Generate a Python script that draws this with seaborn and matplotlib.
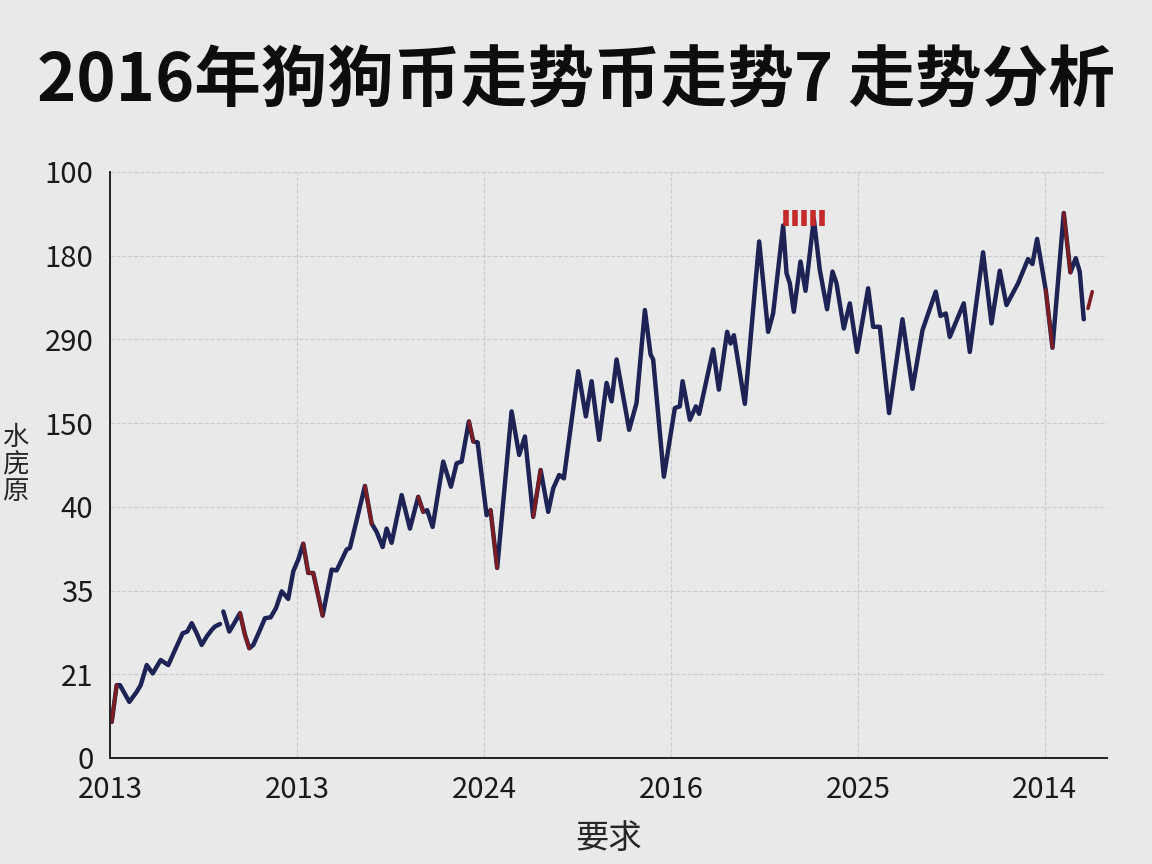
import pandas as pd
import matplotlib.pyplot as plt
import seaborn as sns
import numpy as np

sns.set_theme(style="white")
plt.rcParams['font.family'] = ['Noto Sans CJK SC', 'DejaVu Sans']

# --- data ---
title = '2016年狗狗币走势币走势7 走势分析'
x_label = '要求'
y_label = '水\n庑\n原'
x_tick_pos = [0, 30, 60, 90, 120, 150]
x_tick_labels = ['2013', '2013', '2024', '2016', '2025', '2014']
y_tick_pos = [0, 1, 2, 3, 4, 5, 6, 7]
y_tick_labels = ['0', '21', '35', '40', '150', '290', '180', '100']

# part 1 (before the short gap)
t_a = [0.27, 1.07, 1.60, 3.10, 4.28, 4.92, 5.89, 6.85, 8.13, 9.35, 10.43, 11.66,
       12.40, 13.11, 13.91, 14.71, 15.51, 16.32, 16.84, 17.65]
v_a = [0.43, 0.87, 0.87, 0.67, 0.79, 0.87, 1.11, 1.01, 1.17, 1.11, 1.29, 1.49,
       1.51, 1.61, 1.49, 1.35, 1.45, 1.53, 1.57, 1.60]

# part 2
t_b = [18.18, 19.14, 19.78, 20.86, 21.66, 22.35, 22.99, 23.95, 24.87, 25.78, 26.63,
       27.55, 28.60, 29.41, 30.21, 31.01, 31.81, 32.61, 34.12, 35.57, 36.37, 37.97,
       38.50, 39.58, 40.91, 41.99, 42.79, 43.75, 44.39, 45.19, 46.80, 48.13, 49.46,
       50.26, 50.90, 51.77, 53.47, 54.71, 55.62, 56.42, 57.59, 58.29, 58.99, 60.43,
       61.07, 62.13, 64.44, 65.66, 66.58, 67.91, 69.10, 70.32, 71.12, 72.08, 72.83,
       75.13, 76.36, 77.28, 78.50, 79.68, 80.49, 81.29, 83.31, 84.49, 85.83, 86.74,
       87.16, 88.88, 90.64, 91.44, 91.88, 93.05, 94.01, 94.54, 96.79, 97.70, 99.03,
       99.58, 100.11, 101.87, 104.17, 105.61, 106.41, 108.02, 108.56, 109.09, 109.73,
       110.80, 111.61, 112.94, 113.90, 115.07, 115.94, 116.58, 117.75, 118.72, 119.89,
       121.66, 122.46, 123.53, 125.02, 127.17, 128.77, 130.38, 132.51, 133.27, 134.12,
       134.76, 137.00, 137.97, 140.10, 141.45, 142.78, 143.86, 145.72, 147.32, 148.02,
       148.77, 150.16, 151.24, 153.05, 154.12, 154.97, 155.61, 156.26]
v_b = [1.75, 1.51, 1.59, 1.73, 1.47, 1.31, 1.35, 1.51, 1.67, 1.68, 1.79,
       1.99, 1.90, 2.23, 2.37, 2.56, 2.21, 2.21, 1.70, 2.25, 2.24, 2.49,
       2.51, 2.84, 3.25, 2.80, 2.70, 2.52, 2.74, 2.57, 3.14, 2.74, 3.12,
       2.94, 2.96, 2.76, 3.54, 3.24, 3.52, 3.54, 4.02, 3.78, 3.77, 2.90,
       2.96, 2.27, 4.14, 3.62, 3.84, 2.88, 3.44, 2.94, 3.22, 3.38, 3.34,
       4.62, 4.08, 4.50, 3.80, 4.48, 4.26, 4.76, 3.92, 4.24, 5.35, 4.82,
       4.76, 3.36, 4.18, 4.20, 4.50, 4.04, 4.20, 4.11, 4.88, 4.40, 5.09,
       4.95, 5.05, 4.23, 6.17, 5.09, 5.31, 6.36, 5.79, 5.67, 5.33,
       5.93, 5.58, 6.44, 5.83, 5.36, 5.81, 5.67, 5.13, 5.43, 4.85,
       5.61, 5.15, 5.15, 4.12, 5.24, 4.41, 5.11, 5.57, 5.28, 5.31,
       5.03, 5.43, 4.85, 6.04, 5.19, 5.82, 5.41, 5.67, 5.96, 5.90,
       6.20, 5.59, 4.90, 6.51, 5.80, 5.97, 5.81, 5.24]

# spans where the line shows red
red_spans = [(0.27, 1.07), (20.86, 22.35), (31.01, 34.12), (40.91, 41.99),
             (49.46, 50.26), (57.59, 58.29), (61.07, 62.13), (67.91, 69.10),
             (150.16, 151.24), (153.05, 154.12)]

# short red piece at the right end
t_end = [156.94, 157.62]
v_end = [5.37, 5.57]

# red cap marks near the top
cap_t = [108.4, 109.9, 111.3, 112.8, 114.2]
cap_v = [6.45, 6.45, 6.45, 6.45, 6.45]

navy = '#1d2354'
red = '#7c1d22'
bg = '#e9e9e9'

df = pd.concat([
    pd.DataFrame({'t': t_a, 'v': v_a, 'seg': 0}),
    pd.DataFrame({'t': t_b, 'v': v_b, 'seg': 1}),
], ignore_index=True)

red_parts = []
for i, (a, b) in enumerate(red_spans):
    part = df[(df['t'] >= a - 1e-6) & (df['t'] <= b + 1e-6)].copy()
    part['seg'] = i
    red_parts.append(part)
red_parts.append(pd.DataFrame({'t': t_end, 'v': v_end, 'seg': len(red_spans)}))
red_df = pd.concat(red_parts, ignore_index=True)

fig = plt.figure(figsize=(11.52, 8.64), dpi=100, facecolor=bg)
ax = fig.add_axes([0.0955, 0.1227, 0.8655, 0.6783])
ax.set_facecolor(bg)

sns.lineplot(data=df, x='t', y='v', units='seg', estimator=None, ax=ax,
             color=navy, linewidth=3.2, sort=False)
sns.lineplot(data=red_df, x='t', y='v', units='seg', estimator=None, ax=ax,
             color=red, linewidth=2.6, sort=False)
ax.plot(cap_t, cap_v, linestyle='none', marker='|', markersize=11,
        markeredgewidth=4, color='#c42a2a')

ax.set_xlim(0, 160)
ax.set_ylim(0, 7)
ax.set_xticks(x_tick_pos)
ax.set_xticklabels(x_tick_labels)
ax.set_yticks(y_tick_pos)
ax.set_yticklabels(y_tick_labels)
ax.tick_params(axis='both', labelsize=21, length=8, width=1.2, color='#222222',
               labelcolor='#1a1a1a', direction='out', pad=4)

ax.grid(True, linestyle='--', linewidth=0.8, color='#cdcdcd')
for side in ['top', 'right']:
    ax.spines[side].set_visible(False)
for side in ['left', 'bottom']:
    ax.spines[side].set_color('#222222')
    ax.spines[side].set_linewidth(1.4)

ax.set_xlabel(x_label, fontsize=24, labelpad=12)
ax.set_ylabel('')
fig.text(0.013, 0.462, y_label, fontsize=19, ha='center', va='center',
         linespacing=1.0)

fig.text(0.5, 0.905, title, fontsize=48, fontweight='black', ha='center',
         va='center', color='#0d0d0d')

plt.savefig('out.png', dpi=100, facecolor=bg)
